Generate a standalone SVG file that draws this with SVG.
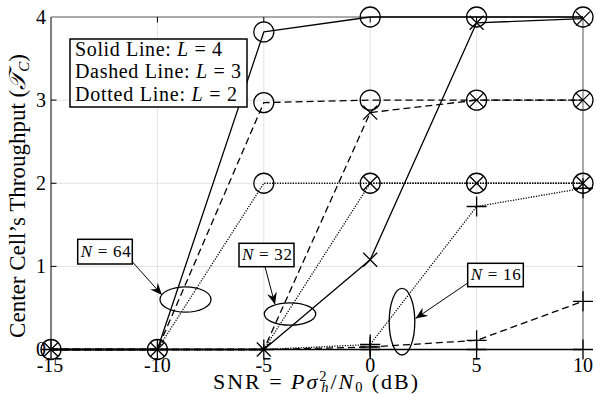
<svg xmlns="http://www.w3.org/2000/svg" xmlns:xlink="http://www.w3.org/1999/xlink" width="596" height="394" viewBox="0 0 596 394">
<style>
text{font-family:"Liberation Serif","DejaVu Serif",serif;fill:#000}
.grid{stroke:#e2e2e2;stroke-width:1;fill:none}
.ax{stroke:#000;stroke-width:1;fill:none}
.ax2{stroke:#555;stroke-width:1;fill:none}
.s{fill:none;stroke:#000;stroke-width:1.3;stroke-linejoin:round}
.d{stroke-dasharray:7,4}
.t{stroke-dasharray:1.2,1.4}
.mk{fill:none;stroke:#000;stroke-width:1.3}
.box{fill:#fff;stroke:#000;stroke-width:1.5}
.ell{fill:none;stroke:#000;stroke-width:1.3}
.arr{stroke:#000;stroke-width:1;fill:none}
.tick{font-size:20px}
</style>
<defs>
<circle id="o" r="10" class="mk"/>
<path id="x" d="M-7,-7L7,7M-7,7L7,-7" class="mk"/>
<path id="p" d="M-10,0H10M0,-10V10" class="mk"/>
<marker id="ah" viewBox="0 0 12 10" refX="12" refY="5" markerWidth="12" markerHeight="10" markerUnits="userSpaceOnUse" orient="auto">
<path d="M12,5L0,0L4,5L0,10Z" fill="#000"/>
</marker>
</defs>
<rect width="596" height="394" fill="#fff"/>
<g id="axes">
<path class="grid" d="M157.4,17V349.5M263.8,17V349.5M370.2,17V349.5M476.6,17V349.5M51,266.4H583M51,183.25H583M51,100.13H583"/>
<path class="ax" d="M51,17V349.5H583"/>
<path class="ax2" d="M51,17H583V349.5"/>
<path class="ax" d="M51,100.13h5.5M51,183.25h5.5M51,266.4h5.5M583,100.13h-5.5M583,183.25h-5.5M583,266.4h-5.5M157.4,349.5v-5.5M263.8,349.5v-5.5M370.2,349.5v-5.5M476.6,349.5v-5.5M157.4,17v5.5M263.8,17v5.5M370.2,17v5.5M476.6,17v5.5"/>
<g class="tick" text-anchor="end">
<text x="46" y="356">0</text>
<text x="46" y="273.4">1</text>
<text x="46" y="190.3">2</text>
<text x="46" y="107.1">3</text>
<text x="46" y="24">4</text>
</g>
<g class="tick" text-anchor="middle">
<text x="50" y="371.5">-15</text>
<text x="157.4" y="371.5">-10</text>
<text x="263.8" y="371.5">-5</text>
<text x="370.2" y="371.5">0</text>
<text x="476.6" y="371.5">5</text>
<text x="583" y="371.5">10</text>
</g>
<text x="213" y="389" font-size="22" textLength="205" lengthAdjust="spacing">SNR = <tspan font-style="italic">Pσ</tspan><tspan font-size="14.5" dy="-8.5">2</tspan><tspan font-size="14.5" font-style="italic" dx="-7.2" dy="11.5">h</tspan><tspan dy="-3">/</tspan><tspan font-style="italic">N</tspan><tspan font-size="14.5" dy="3">0</tspan><tspan dy="-3"> (dB)</tspan></text>
<text transform="translate(25,196) rotate(-90)" text-anchor="middle" font-size="23">Center Cell’s Throughput (<tspan font-style="italic">𝒯</tspan><tspan font-size="15" font-style="italic" dy="4">C</tspan><tspan dy="-4">)</tspan></text>
</g>
<g id="curves">
<polyline id="n64-l4" class="s" points="51,349.5 157.4,349.5 263.8,31.96 370.2,17 476.6,17 583,17"/>
<polyline id="n64-l3" class="s d" points="51,349.5 157.4,349.5 263.8,102.62 370.2,100.13 476.6,100.13 583,100.13"/>
<polyline id="n64-l2" class="s t" points="51,349.5 157.4,349.5 263.8,183.25 370.2,183.25 476.6,183.25 583,183.25"/>
<polyline id="n32-l4" class="s" points="51,349.5 157.4,349.5 263.8,349.5 370.2,259.72 476.6,22.82 583,18.66"/>
<polyline id="n32-l3" class="s d" points="51,349.5 157.4,349.5 263.8,349.5 370.2,112.59 476.6,100.13 583,100.13"/>
<polyline id="n32-l2" class="s t" points="51,349.5 157.4,349.5 263.8,349.5 370.2,183.25 476.6,183.25 583,183.25"/>
<polyline id="n16-l4" class="s" points="51,349.5 157.4,349.5 263.8,349.5 370.2,349.5 476.6,349.5 583,349.5"/>
<polyline id="n16-l3" class="s d" points="51,349.5 157.4,349.5 263.8,349.5 370.2,347.01 476.6,340.36 583,301.29"/>
<polyline id="n16-l2" class="s t" points="51,349.5 157.4,349.5 263.8,349.5 370.2,344.51 476.6,206.52 583,188.24"/>
</g>
<g id="markers">
<use href="#o" x="51" y="349.5"/><use href="#o" x="157.4" y="349.5"/>
<use href="#o" x="263.8" y="31.96"/><use href="#o" x="370.2" y="17"/><use href="#o" x="476.6" y="17"/><use href="#o" x="583" y="17"/>
<use href="#o" x="263.8" y="102.62"/><use href="#o" x="370.2" y="100.13"/><use href="#o" x="476.6" y="100.13"/><use href="#o" x="583" y="100.13"/>
<use href="#o" x="263.8" y="183.25"/><use href="#o" x="370.2" y="183.25"/><use href="#o" x="476.6" y="183.25"/><use href="#o" x="583" y="183.25"/>
<use href="#x" x="51" y="349.5"/><use href="#x" x="157.4" y="349.5"/><use href="#x" x="263.8" y="349.5"/>
<use href="#x" x="370.2" y="259.72"/><use href="#x" x="476.6" y="22.82"/><use href="#x" x="583" y="18.66"/>
<use href="#x" x="370.2" y="112.59"/><use href="#x" x="476.6" y="100.13"/><use href="#x" x="583" y="100.13"/>
<use href="#x" x="370.2" y="183.25"/><use href="#x" x="476.6" y="183.25"/><use href="#x" x="583" y="183.25"/>
<use href="#p" x="51" y="349.5"/><use href="#p" x="157.4" y="349.5"/><use href="#p" x="263.8" y="349.5"/>
<use href="#p" x="370.2" y="349.5"/><use href="#p" x="476.6" y="349.5"/><use href="#p" x="583" y="349.5"/>
<use href="#p" x="370.2" y="347.01"/><use href="#p" x="476.6" y="340.36"/><use href="#p" x="583" y="301.29"/>
<use href="#p" x="370.2" y="344.51"/><use href="#p" x="476.6" y="206.52"/><use href="#p" x="583" y="188.24"/>
</g>
<g id="legend">
<rect class="box" x="70" y="39" width="177" height="68"/>
<text x="75" y="56" font-size="20" textLength="147" lengthAdjust="spacing">Solid Line: <tspan font-style="italic">L</tspan> = 4</text>
<text x="75" y="78.3" font-size="20" textLength="166" lengthAdjust="spacing">Dashed Line: <tspan font-style="italic">L</tspan> = 3</text>
<text x="75" y="100.6" font-size="20" textLength="162" lengthAdjust="spacing">Dotted Line: <tspan font-style="italic">L</tspan> = 2</text>
</g>
<g id="note-n64">
<rect class="box" x="77.7" y="239.3" width="54.6" height="24.7"/>
<text x="80.7" y="256.5" font-size="17" textLength="50" lengthAdjust="spacing"><tspan font-style="italic">N</tspan> = 64</text>
<ellipse class="ell" cx="185.5" cy="299.5" rx="25.5" ry="12.7"/>
<line class="arr" x1="132.5" y1="262" x2="162" y2="295" marker-end="url(#ah)"/>
</g>
<g id="note-n32">
<rect class="box" x="239" y="243.3" width="55" height="23.4"/>
<text x="242" y="259.8" font-size="17" textLength="50" lengthAdjust="spacing"><tspan font-style="italic">N</tspan> = 32</text>
<ellipse class="ell" cx="290" cy="314" rx="25.7" ry="11.2"/>
<line class="arr" x1="265" y1="266.7" x2="275" y2="304.5" marker-end="url(#ah)"/>
</g>
<g id="note-n16">
<rect class="box" x="467.7" y="263.3" width="55.6" height="23.4"/>
<text x="470.7" y="279.8" font-size="17" textLength="50" lengthAdjust="spacing"><tspan font-style="italic">N</tspan> = 16</text>
<ellipse class="ell" cx="402" cy="321.7" rx="12.8" ry="33.3"/>
<line class="arr" x1="467" y1="283.5" x2="415.5" y2="318.5" marker-end="url(#ah)"/>
</g>
</svg>
